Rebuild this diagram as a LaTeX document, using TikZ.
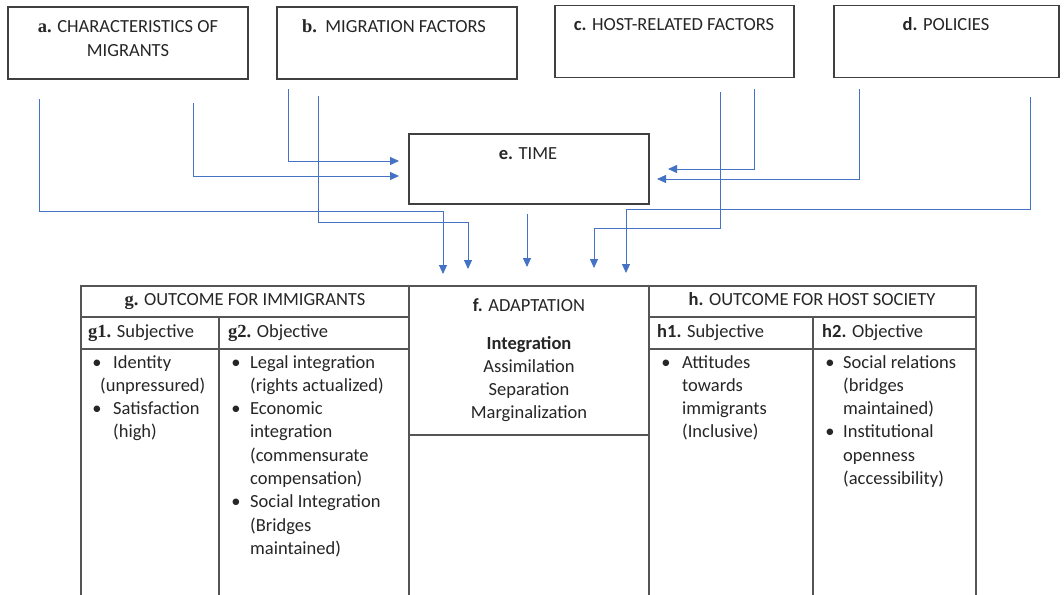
\documentclass[tikz,border=0pt]{standalone}
\usepackage{fontspec}
\setmainfont{Carlito}
\newfontfamily\serifbold{Liberation Serif}
\usetikzlibrary{arrows.meta}
\definecolor{arblue}{HTML}{4472C4}
\definecolor{boxgray}{HTML}{404040}
\definecolor{tabgray}{HTML}{555555}
\newcommand\lblS[1]{{\serifbold\bfseries #1}}
\newcommand\lblB[1]{{\bfseries #1}}
\newcommand\Lt[1]{\begin{tabular}[t]{@{}l@{}}#1\end{tabular}}
\newcommand\Ct[1]{\begin{tabular}[t]{@{}c@{}}#1\end{tabular}}
\begin{document}
\begin{tikzpicture}[x=1pt,y=-1pt,
  topbox/.style={draw=boxgray, line width=1.3pt, inner sep=0pt},
  cell/.style={draw=tabgray, line width=1.1pt, inner sep=0pt},
  txt/.style={inner sep=0pt, font=\fontsize{18.5}{23.3}\selectfont, text=black!85},
  arr/.style={draw=arblue, line width=0.9pt, -{Triangle[length=9pt,width=8pt]}},
]
\useasboundingbox (0,0) rectangle (1064,594);
\fill[white] (0,0) rectangle (1064,594);

% top boxes
\node[topbox, minimum width=240pt, minimum height=72pt] (a) at (128,43) {};
\node[topbox, minimum width=240pt, minimum height=72pt] (b) at (397,43) {};
\node[topbox, minimum width=239pt, minimum height=72pt] (c) at (674.5,41.5) {};
\node[topbox, minimum width=225pt, minimum height=72pt] (d) at (946.5,41.5) {};
\node[topbox, minimum width=240pt, minimum height=70pt] (e) at (529,169) {};

\node[txt, anchor=base] (at) at (128,33) {\Ct{\lblS{a.} CHARACTERISTICS OF\\MIGRANTS}};
\node[txt, anchor=base] (bt) at (394,33) {\lblS{b.}\ \ MIGRATION FACTORS};
\node[txt, anchor=base] (ct) at (674,31) {\lblB{c.} HOST-RELATED FACTORS};
\node[txt, anchor=base] (dt) at (946,31) {\lblB{d.} POLICIES};
\node[txt, anchor=base] (et) at (528,159) {\lblB{e.} TIME};

% table cells
\node[cell, minimum width=328pt, minimum height=31pt] (g) at (245,301.5) {};
\node[cell, minimum width=138pt, minimum height=32pt] (g1) at (150,333) {};
\node[cell, minimum width=190pt, minimum height=32pt] (g2) at (314,333) {};
\node[cell, minimum width=138pt, minimum height=249pt] (g1b) at (150,473.5) {};
\node[cell, minimum width=190pt, minimum height=249pt] (g2b) at (314,473.5) {};
\node[cell, minimum width=240pt, minimum height=149pt] (f) at (529,360.5) {};
\node[cell, minimum width=240pt, minimum height=163pt] (fb) at (529,516.5) {};
\node[cell, minimum width=327pt, minimum height=31pt] (h) at (812.5,301.5) {};
\node[cell, minimum width=164pt, minimum height=32pt] (h1) at (731,333) {};
\node[cell, minimum width=163pt, minimum height=32pt] (h2) at (894.5,333) {};
\node[cell, minimum width=164pt, minimum height=249pt] (h1b) at (731,473.5) {};
\node[cell, minimum width=163pt, minimum height=249pt] (h2b) at (894.5,473.5) {};

% table headers
\node[txt, anchor=base] (gt) at (245,305) {\lblS{g.} OUTCOME FOR IMMIGRANTS};
\node[txt, anchor=base west] (g1t) at (88,337) {\lblS{g1.} Subjective};
\node[txt, anchor=base west] (g2t) at (228,337) {\lblS{g2.} Objective};
\node[txt, anchor=base] (ht) at (812,305) {\lblB{h.} OUTCOME FOR HOST SOCIETY};
\node[txt, anchor=base west] (h1t) at (657,337) {\lblB{h1.} Subjective};
\node[txt, anchor=base west] (h2t) at (822,337) {\lblB{h2.} Objective};

% adaptation
\node[txt, anchor=base] (ft) at (529,311) {\lblB{f.} ADAPTATION};
\node[txt, anchor=base] (fl) at (529,349) {\Ct{\textbf{Integration}\\Assimilation\\Separation\\Marginalization}};

% g1 list
\node[txt, anchor=base] (gb1) at (97,368) {\textbullet};
\node[txt, anchor=base west] (gi1) at (113,368) {Identity};
\node[txt, anchor=base west] (gi1b) at (100,391.3) {(unpressured)};
\node[txt, anchor=base] (gb2) at (97,414.6) {\textbullet};
\node[txt, anchor=base west] (gi2) at (113,414.6) {\Lt{Satisfaction\\(high)}};

% g2 list
\node[txt, anchor=base] (gc1) at (236,368) {\textbullet};
\node[txt, anchor=base west] (gj1) at (250,368) {\Lt{Legal integration\\(rights actualized)}};
\node[txt, anchor=base] (gc2) at (236,414.6) {\textbullet};
\node[txt, anchor=base west] (gj2) at (250,414.6) {\Lt{Economic\\integration\\(commensurate\\compensation)}};
\node[txt, anchor=base] (gc3) at (236,507.8) {\textbullet};
\node[txt, anchor=base west] (gj3) at (250,507.8) {\Lt{Social Integration\\(Bridges\\maintained)}};

% h1 list
\node[txt, anchor=base] (hb1) at (666,368) {\textbullet};
\node[txt, anchor=base west] (hi1) at (682,368) {\Lt{Attitudes\\towards\\immigrants\\(Inclusive)}};

% h2 list
\node[txt, anchor=base] (hc1) at (830,368) {\textbullet};
\node[txt, anchor=base west] (hj1) at (843,368) {\Lt{Social relations\\(bridges\\maintained)}};
\node[txt, anchor=base] (hc2) at (830,437.9) {\textbullet};
\node[txt, anchor=base west] (hj2) at (843,437.9) {\Lt{Institutional\\openness\\(accessibility)}};

% connector ends
\coordinate (sa1) at (39,99);   \coordinate (ea1) at (443,274);
\coordinate (sa2) at (193,103); \coordinate (ea2) at (399,176);
\coordinate (sb1) at (288,89);  \coordinate (eb1) at (399,161);
\coordinate (sb2) at (318,96);  \coordinate (eb2) at (468,269);
\coordinate (se)  at (527,214); \coordinate (ee)  at (527,267);
\coordinate (sc1) at (720,92);  \coordinate (ec1) at (594,268);
\coordinate (sc2) at (754,89);  \coordinate (ec2) at (668,169);
\coordinate (sd1) at (859,89);  \coordinate (ed1) at (657,179);
\coordinate (sd2) at (1030,97); \coordinate (ed2) at (626,273);

\draw[arr] (sa1) |- (ea1 |- 0,211) -- (ea1);
\draw[arr] (sa2) |- (ea2);
\draw[arr] (sb1) |- (eb1);
\draw[arr] (sb2) |- (eb2 |- 0,222) -- (eb2);
\draw[arr] (se) -- (ee);
\draw[arr] (sc1) |- (ec1 |- 0,228) -- (ec1);
\draw[arr] (sc2) |- (ec2);
\draw[arr] (sd1) |- (ed1);
\draw[arr] (sd2) |- (ed2 |- 0,209) -- (ed2);
\end{tikzpicture}
\end{document}
